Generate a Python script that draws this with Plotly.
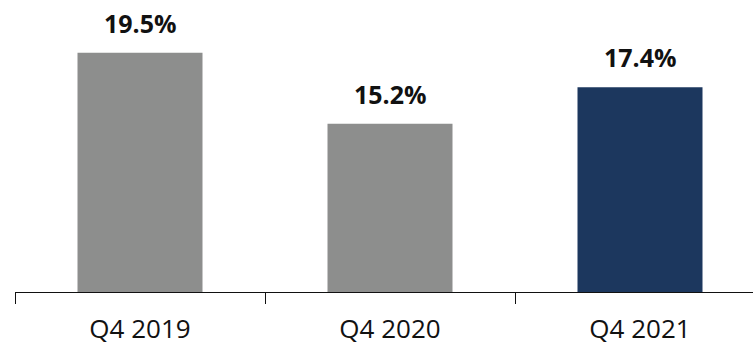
import plotly.graph_objects as go

categories = ["Q4 2019", "Q4 2020", "Q4 2021"]
values = [19.5, 15.2, 17.4]
labels = ["19.5%", "15.2%", "17.4%"]
colors = ["#8D8E8D", "#8D8E8D", "#1C375E"]

fig = go.Figure()
fig.add_trace(go.Bar(
    x=categories, y=values, width=0.5,
    marker=dict(color=colors, line=dict(width=0)),
    hoverinfo="skip",
))

for c, v, t in zip(categories, values, labels):
    fig.add_annotation(
        x=c, y=v, text="<b>" + t + "</b>", showarrow=False,
        yanchor="middle", yshift=30,
        font=dict(family="Open Sans", size=25, color="#111111"),
    )

fig.update_layout(
    width=753, height=346,
    margin=dict(l=15, r=0, t=0, b=54),
    paper_bgcolor="white", plot_bgcolor="white",
    showlegend=False,
    font=dict(family="Open Sans", color="#111111"),
)
fig.update_xaxes(
    type="category", categoryorder="array", categoryarray=categories,
    range=[-0.5, 2.452], automargin=False,
    tickson="boundaries", ticks="outside", ticklen=11, tickwidth=1,
    tickcolor="#111111", showline=True, linecolor="#111111", linewidth=1,
    showgrid=False, zeroline=False,
    tickfont=dict(family="Open Sans", size=26, color="#111111"),
    ticklabelstandoff=14,
)
fig.update_yaxes(range=[5, 22.69], visible=False, showgrid=False, zeroline=False,
                 automargin=False)

fig.write_html("out.html")
